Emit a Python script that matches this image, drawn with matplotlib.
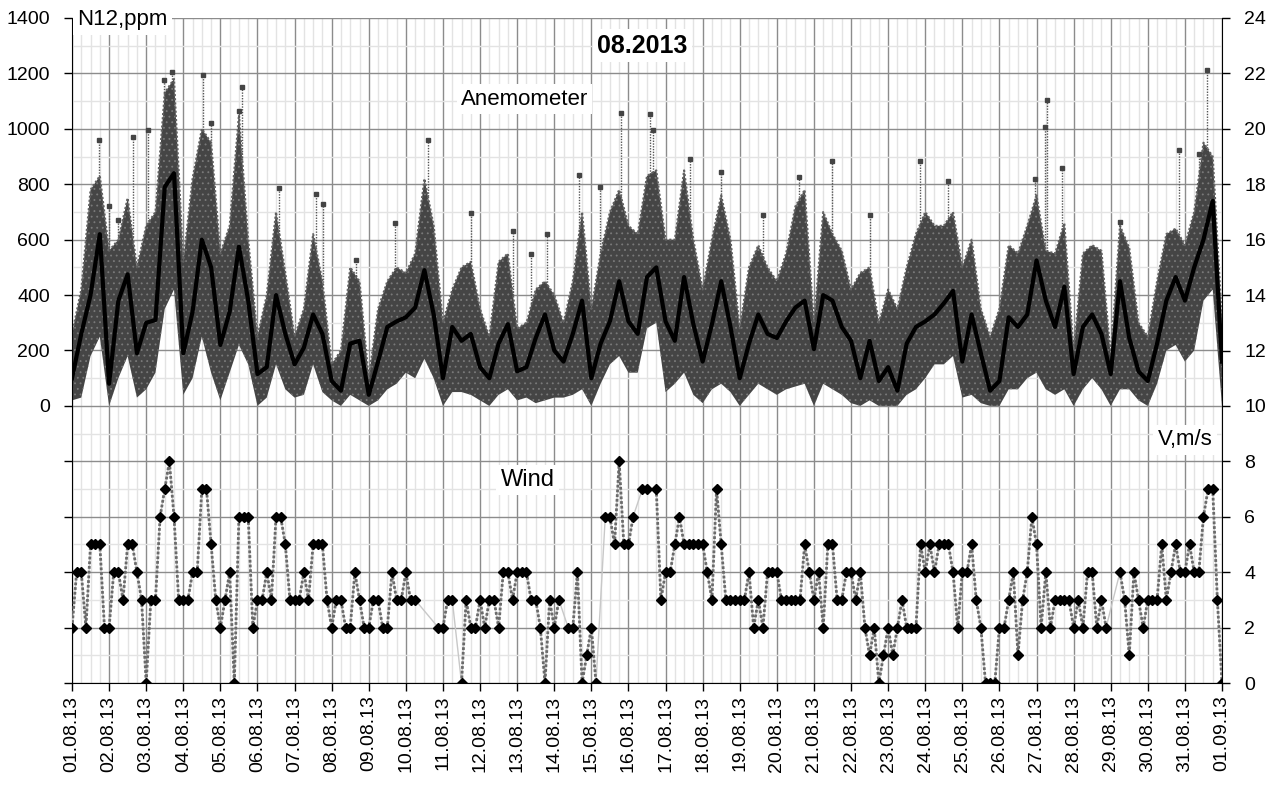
import numpy as np
import matplotlib
matplotlib.use('Agg')
import matplotlib.pyplot as plt

plt.rcParams['font.family'] = ['Liberation Sans', 'DejaVu Sans']
plt.rcParams['hatch.color'] = '#7a7a7a'
plt.rcParams['hatch.linewidth'] = 0.6

nan = np.nan

# date tick labels, one per day
day_labels = ['%02d.08.13' % d for d in range(1, 32)] + ['01.09.13']

# wind speed, m/s, every 3 hours (8 per day), nan = no reading
wind_ms = [
    2, 4, 4, 2, 5, 5, 5, 2,          # 01.08
    2, 4, 4, 3, 5, 5, 4, 3,          # 02.08
    0, 3, 3, 6, 7, 8, 6, 3,          # 03.08
    3, 3, 4, 4, 7, 7, 5, 3,          # 04.08
    2, 3, 4, 0, 6, 6, 6, 2,          # 05.08
    3, 3, 4, 3, 6, 6, 5, 3,          # 06.08
    3, 3, 4, 3, 5, 5, 5, 3,          # 07.08
    2, 3, 3, 2, 2, 4, 3, 2,          # 08.08
    2, 3, 3, 2, 2, 4, 3, 3,          # 09.08
    4, 3, 3, nan, nan, nan, nan, 2,  # 10.08
    2, 3, 3, nan, 0, 3, 2, 2,        # 11.08
    3, 2, 3, 3, 2, 4, 4, 3,          # 12.08
    4, 4, 4, 3, 3, 2, 0, 3,          # 13.08
    2, 3, nan, 2, 2, 4, 0, 1,        # 14.08
    2, 0, nan, 6, 6, 5, 8, 5,        # 15.08
    5, 6, nan, 7, 7, nan, 7, 3,      # 16.08
    4, 4, 5, 6, 5, 5, 5, 5,          # 17.08
    5, 4, 3, 7, 5, 3, 3, 3,          # 18.08
    3, 3, 4, 2, 3, 2, 4, 4,          # 19.08
    4, 3, 3, 3, 3, 3, 5, 4,          # 20.08
    3, 4, 2, 5, 5, 3, 3, 4,          # 21.08
    4, 3, 4, 2, 1, 2, 0, 1,          # 22.08
    2, 1, 2, 3, 2, 2, 2, 5,          # 23.08
    4, 5, 4, 5, 5, 5, 4, 2,          # 24.08
    4, 4, 5, 3, 2, 0, 0, 0,          # 25.08
    2, 2, 3, 4, 1, 3, 4, 6,          # 26.08
    5, 2, 4, 2, 3, 3, 3, 3,          # 27.08
    2, 3, 2, 4, 4, 2, 3, 2,          # 28.08
    nan, nan, 4, 3, 1, 4, 3, 2,      # 29.08
    3, 3, 3, 5, 3, 4, 5, 4,          # 30.08
    4, 5, 4, 4, 6, 7, 7, 3,          # 31.08
    0,                               # 01.09
]

# anemometer N12, ppm, every 6 hours: running mean, top and bottom of the point cloud
anem_mean = [
    100, 260, 400, 620, 80, 380, 475, 190, 300, 310, 790, 840,
    190, 340, 600, 500, 220, 340, 575, 380, 115, 140, 400, 260,
    150, 210, 330, 260, 90, 55, 225, 235, 40, 160, 285, 305,
    320, 355, 490, 330, 100, 285, 235, 260, 140, 100, 225, 295,
    125, 140, 245, 330, 200, 160, 260, 380, 100, 225, 305, 450,
    305, 260, 465, 500, 305, 235, 465, 295, 160, 295, 450, 285,
    100, 225, 330, 260, 245, 305, 355, 380, 205, 400, 380, 285,
    235, 100, 235, 90, 140, 55, 225, 285, 305, 330, 370, 415,
    160, 330, 190, 55, 90, 320, 285, 330, 525, 380, 285, 430,
    115, 285, 330, 260, 115, 450, 245, 125, 90, 225, 380, 465,
    380, 500, 600, 740, 160,
]
anem_hi = [
    260, 420, 780, 830, 560, 600, 750, 500, 650, 700, 1130, 1180,
    520, 820, 1000, 950, 550, 650, 1050, 600, 250, 400, 700, 480,
    250, 350, 620, 450, 150, 200, 500, 450, 100, 350, 450, 500,
    480, 550, 820, 650, 300, 420, 500, 520, 350, 250, 520, 550,
    280, 300, 420, 450, 400, 300, 450, 700, 350, 550, 700, 780,
    650, 620, 830, 850, 600, 600, 850, 600, 420, 600, 760, 600,
    280, 500, 580, 500, 450, 550, 720, 780, 300, 700, 620, 560,
    420, 480, 500, 300, 420, 350, 500, 620, 700, 650, 650, 700,
    500, 600, 350, 250, 350, 580, 550, 650, 760, 560, 550, 660,
    200, 550, 580, 560, 180, 650, 570, 300, 250, 450, 620, 640,
    580, 700, 950, 900, 300,
]
anem_lo = [
    20, 30, 180, 250, 0, 100, 180, 30, 60, 120, 350, 420,
    40, 100, 250, 120, 20, 120, 220, 150, 0, 30, 150, 60,
    30, 40, 150, 50, 20, 0, 40, 20, 0, 20, 60, 80,
    120, 100, 170, 100, 0, 50, 50, 40, 20, 0, 40, 60,
    20, 30, 10, 20, 30, 30, 40, 60, 0, 80, 150, 180,
    120, 120, 280, 300, 50, 80, 120, 40, 10, 60, 80, 50,
    0, 40, 80, 60, 40, 60, 70, 80, 0, 80, 60, 40,
    10, 0, 20, 0, 0, 0, 40, 60, 100, 150, 150, 180,
    30, 40, 10, 0, 0, 60, 60, 100, 120, 60, 40, 60,
    0, 60, 100, 60, 0, 60, 60, 20, 0, 80, 200, 220,
    160, 200, 380, 420, 0,
]

# isolated peaks above the cloud (day from 01.08 00:00, ppm)
spike_day = [0.74, 1.01, 1.23, 1.64, 2.04, 2.49, 2.70, 3.53, 3.75, 4.51, 4.59,
             5.59, 6.58, 6.76, 7.66, 8.72, 9.59, 10.75, 11.89, 12.38, 12.81,
             13.67, 14.23, 14.81, 15.58, 15.67, 16.66, 17.49, 18.63, 19.60,
             20.50, 21.51, 22.86, 23.62, 25.96, 26.23, 26.28, 26.68, 28.26,
             29.85, 30.37, 30.59]
spike_ppm = [960, 720, 670, 970, 995, 1175, 1205, 1195, 1020, 1065, 1150,
             785, 765, 730, 525, 660, 960, 695, 630, 550, 620,
             835, 790, 1058, 1053, 995, 890, 845, 690, 825,
             885, 690, 885, 810, 820, 1007, 1105, 860, 665,
             925, 910, 1212]

wind = np.array(wind_ms, dtype=float)
t_wind = np.arange(len(wind)) / 8.0
t_anem = np.arange(len(anem_mean)) / 4.0

fig = plt.figure(figsize=(12.77, 7.87), dpi=100)
ax = fig.add_axes([72 / 1277, 104 / 787, 1150 / 1277, 665 / 787])
ax2 = ax.twinx()

# left axis: ppm
ax.set_xlim(0, 31)
ax.set_ylim(-1000, 1400)
yt = list(range(-1000, 1401, 200))
ax.set_yticks(yt)
ax.set_yticklabels([str(v) if v >= 0 else '' for v in yt])
ax.set_yticks(range(-1000, 1401, 100), minor=True)
ax.set_xticks(range(32))
ax.set_xticklabels(day_labels, rotation=90)
ax.set_xticks(np.arange(0, 31.01, 0.25), minor=True)
ax.grid(which='minor', color='#e3e3e3', lw=1)
ax.grid(which='major', color='#8c8c8c', lw=1)
ax.set_axisbelow(True)
ax.tick_params(which='minor', length=0)
ax.tick_params(which='major', direction='out', length=6, width=1,
               labelsize=14, color='black')
ax.tick_params(axis='y', pad=10)
ax.tick_params(axis='x', pad=3)
ax.spines['top'].set_visible(False)
ax.spines['right'].set_visible(False)

# anemometer cloud
ax.fill_between(t_anem, anem_lo, anem_hi, facecolor='#454545', edgecolor='none',
                hatch='...', lw=0, zorder=2)
ax.plot(t_anem, anem_hi, color='#606060', lw=1.5, linestyle=(0, (1, 1)), zorder=2)
spike_base = np.interp(spike_day, t_anem, anem_hi)
ax.vlines(spike_day, spike_base, spike_ppm, colors='#555555', lw=1,
          linestyles=(0, (1, 1)), zorder=2)
ax.plot(spike_day, spike_ppm, 's', color='#444444', ms=2.5, zorder=2)
ax.plot(t_anem, anem_mean, color='black', lw=3, zorder=3)

# right axis: wind
ax2.set_ylim(0, 24)
ax2.set_yticks(range(0, 25, 2))
ax2.tick_params(direction='out', length=6, width=1, labelsize=14, pad=10)
for s in ['top', 'left', 'bottom']:
    ax2.spines[s].set_visible(False)

ok = ~np.isnan(wind)
ax2.plot(t_wind[ok], wind[ok], color='#c8c8c8', lw=1, zorder=2)
ax2.plot(t_wind, wind, color='#6a6a6a', lw=2, linestyle=(0, (1, 0.7)), zorder=3)
ax2.plot(t_wind, wind, 'D', color='black', ms=5.5, zorder=4)

box = dict(facecolor='white', edgecolor='none', pad=3)
ax2.text(0.15, 23.93, 'N12,ppm', fontsize=16, ha='left', va='center', bbox=box, zorder=5)
ax2.text(15.38, 23.0, '08.2013', fontsize=18, fontweight='bold', ha='center',
         va='center', bbox=box, zorder=5)
ax2.text(12.2, 21.07, 'Anemometer', fontsize=16, ha='center', va='center',
         bbox=box, zorder=5)
ax2.text(12.28, 7.33, 'Wind', fontsize=17, ha='center', va='center',
         bbox=box, zorder=5)
ax2.text(30.0, 8.77, 'V,m/s', fontsize=16, ha='center', va='center',
         bbox=box, zorder=5)

fig.savefig('out.png', dpi=100)
